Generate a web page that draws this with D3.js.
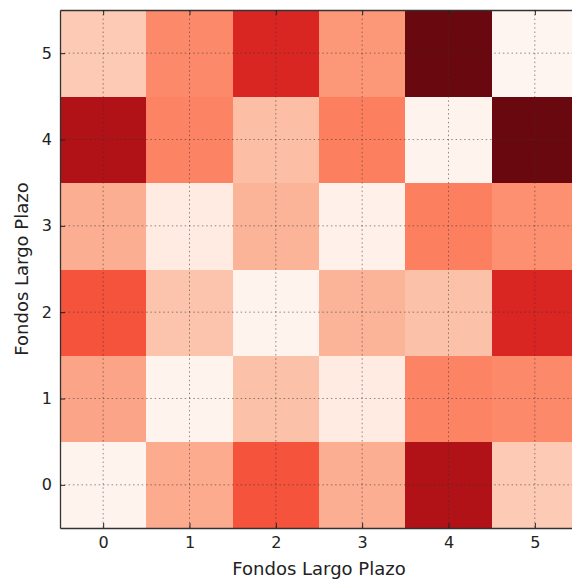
<!DOCTYPE html>
<html>
<head>
<meta charset="utf-8">
<script src="https://cdn.jsdelivr.net/npm/d3@7"></script>
<style>
html,body{margin:0;padding:0;background:#fff;overflow:hidden}
text{font-family:"DejaVu Sans",sans-serif;fill:#222}
</style>
</head>
<body>
<svg id="c" width="572" height="582"></svg>
<script>
// categories
const xCats = [0,1,2,3,4,5];
const yCats = [0,1,2,3,4,5];
const xTickLabels = ["0","1","2","3","4","5"];
const yTickLabels = ["0","1","2","3","4","5"];
const xLabel = "Fondos Largo Plazo";
const yLabel = "Fondos Largo Plazo";
// values (colormap position 0..1), one array per row y
const row0 = [0.01, 0.30, 0.56, 0.29, 0.84, 0.20];
const row1 = [0.32, 0.01, 0.23, 0.06, 0.42, 0.40];
const row2 = [0.56, 0.22, 0.01, 0.27, 0.23, 0.70];
const row3 = [0.29, 0.06, 0.27, 0.03, 0.43, 0.38];
const row4 = [0.84, 0.42, 0.24, 0.43, 0.01, 1.00];
const row5 = [0.20, 0.40, 0.70, 0.36, 1.00, 0.00];
const rows = [row0,row1,row2,row3,row4,row5];
const redsStops = ["#fff5f0","#fee0d2","#fcbba1","#fc9272","#fb6a4a","#ef3b2c","#cb181d","#a50f15","#6a080f"];

const svg = d3.select("#c");
const L = 60, T = 10, W = 518, H = 518;
const x = d3.scaleLinear().domain([-0.5, 5.5]).range([L, L + W]);
const y = d3.scaleLinear().domain([-0.5, 5.5]).range([T + H, T]);
const color = d3.scaleLinear()
  .domain(d3.range(redsStops.length).map(i => i / (redsStops.length - 1)))
  .range(redsStops).interpolate(d3.interpolateRgb);

const cells = [];
rows.forEach((r, yi) => r.forEach((v, xi) => cells.push({x: xCats[xi], y: yCats[yi], v})));

const g = svg.append("g");
g.selectAll("rect.cell").data(cells).enter().append("rect")
  .attr("class","cell")
  .attr("x", d => x(d.x - 0.5))
  .attr("y", d => y(d.y + 0.5))
  .attr("width", d => x(d.x + 0.5) - x(d.x - 0.5) + 0.5)
  .attr("height", d => y(d.y - 0.5) - y(d.y + 0.5) + 0.5)
  .attr("fill", d => color(d.v))
  .attr("shape-rendering","crispEdges");

// grid
const grid = svg.append("g").attr("stroke","#333").attr("stroke-opacity",0.55)
  .attr("stroke-width",1).attr("stroke-dasharray","1.5,2.8");
grid.selectAll("line.v").data(xCats).enter().append("line")
  .attr("x1", d => x(d)).attr("x2", d => x(d)).attr("y1", T).attr("y2", T + H);
grid.selectAll("line.h").data(yCats).enter().append("line")
  .attr("y1", d => y(d)).attr("y2", d => y(d)).attr("x1", L).attr("x2", L + W);

// axes with inward ticks
const xAxisB = d3.axisBottom(x).tickValues(xCats).tickFormat((d,i) => xTickLabels[i]).tickSizeInner(-5).tickSizeOuter(0).tickPadding(9);
const xAxisT = d3.axisTop(x).tickValues(xCats).tickFormat("").tickSizeInner(-5).tickSizeOuter(0);
const yAxisL = d3.axisLeft(y).tickValues(yCats).tickFormat((d,i) => yTickLabels[i]).tickSizeInner(-5).tickSizeOuter(0).tickPadding(8);
const yAxisR = d3.axisRight(y).tickValues(yCats).tickFormat("").tickSizeInner(-5).tickSizeOuter(0);

function style(sel){
  sel.selectAll("path.domain").attr("stroke","#333").attr("stroke-width",1.3);
  sel.selectAll(".tick line").attr("stroke","#222").attr("stroke-width",1);
  sel.selectAll(".tick text").attr("font-size",16).attr("fill","#333").attr("font-family","'DejaVu Sans', sans-serif");
}
svg.append("g").attr("transform",`translate(0,${T+H})`).call(xAxisB).call(style);
svg.append("g").attr("transform",`translate(0,${T})`).call(xAxisT).call(style);
svg.append("g").attr("transform",`translate(${L},0)`).call(yAxisL).call(style);
svg.append("g").attr("transform",`translate(${L+W},0)`).call(yAxisR).call(style);

svg.append("text").attr("x", x(2.5)).attr("y", 575).attr("text-anchor","middle")
  .attr("font-size",18).attr("fill","#333").text(xLabel);
svg.append("text").attr("transform",`translate(28,${y(2.5)}) rotate(-90)`)
  .attr("text-anchor","middle").attr("font-size",18).attr("fill","#333").text(yLabel);
</script>
</body>
</html>
